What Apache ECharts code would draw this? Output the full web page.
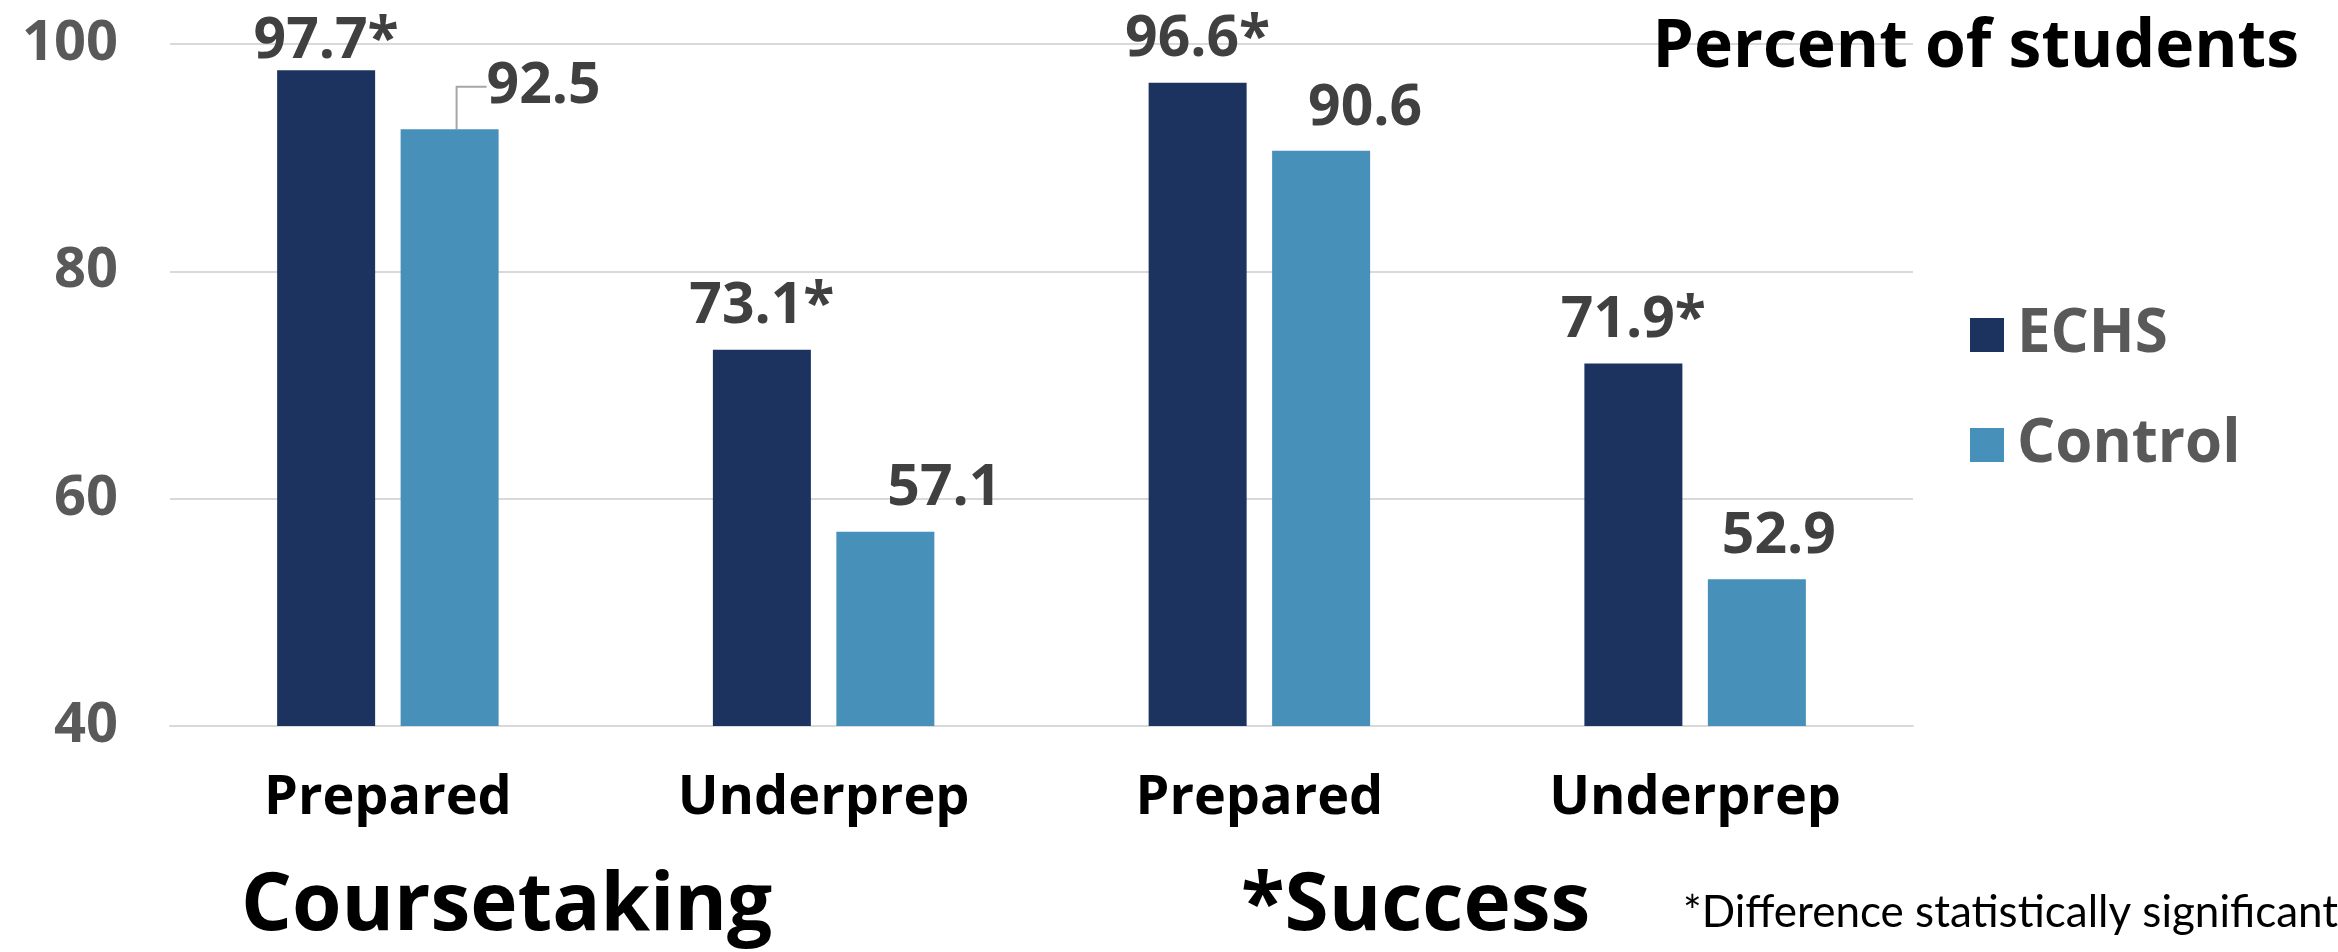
<!DOCTYPE html>
<html>
<head>
<meta charset="utf-8">
<script src="https://cdn.jsdelivr.net/npm/echarts@6/dist/echarts.min.js"></script>
<style>
  html, body { margin: 0; padding: 0; background: #ffffff; }
  #chart { width: 2338px; height: 952px; }
</style>
</head>
<body>
<div id="chart"></div>
<script>
// Categories along the x axis (two measures, each split by preparation level)
const categories = ['Prepared', 'Underprep', 'Prepared', 'Underprep'];
const groupTitles = ['Coursetaking', '*Success'];
const footnote = '*Difference statistically significant';
const unitTitle = 'Percent of students';

// Percent of students in each group
const echsValues = [97.7, 73.1, 96.6, 71.9];
const controlValues = [92.5, 57.1, 90.6, 52.9];
const echsSignificant = [true, true, true, true];

// Value axis range and ticks
const yMin = 40, yMax = 100, yStep = 20;

const BOLD_FONT = '"Open Sans", Lato, sans-serif';
const TEXT_FONT = 'Lato, "Open Sans", sans-serif';
const NAVY = '#1c3360';
const STEEL = '#4690ba';

// horizontal nudges (px) for the Control value labels so they clear the neighbouring bars;
// the first one sits off to the side and is tied back to its bar with a guide line
const controlLabelShift = [94, 59, 44, 22];
const controlLabelLift = [0, 0, 0, 0];

const chart = echarts.init(document.getElementById('chart'), null, { renderer: 'canvas' });

const labelBase = {
  show: true,
  position: 'top',
  distance: 14,
  fontFamily: BOLD_FONT,
  fontWeight: 'bold',
  fontSize: 57,
  color: '#404040'
};

const echsData = echsValues.map((v, i) => ({
  value: v,
  label: i === 0 ? { offset: [0, 14] } : undefined
}));

const controlData = controlValues.map((v, i) => ({
  value: v,
  labelLine: { show: i === 0 }
}));

chart.setOption({
  animation: false,
  backgroundColor: '#ffffff',
  textStyle: { fontFamily: BOLD_FONT },
  title: [
    {
      text: unitTitle,
      right: 34, top: 10,
      textStyle: { fontFamily: BOLD_FONT, fontWeight: 'bold', fontSize: 66, color: '#000000' }
    },
    {
      text: groupTitles[0],
      left: 236, top: 862,
      textStyle: { fontFamily: BOLD_FONT, fontWeight: 'bold', fontSize: 80, color: '#000000' }
    },
    {
      text: groupTitles[1],
      left: 1236, top: 862,
      textStyle: { fontFamily: BOLD_FONT, fontWeight: 'bold', fontSize: 80, color: '#000000' }
    },
    {
      text: footnote,
      left: 1678, top: 886,
      textStyle: { fontFamily: TEXT_FONT, fontWeight: 'normal', fontSize: 44, color: '#000000' }
    }
  ],
  legend: {
    orient: 'vertical',
    left: 1965, top: 300,
    itemWidth: 34, itemHeight: 34,
    itemGap: 50,
    icon: 'rect',
    textStyle: { fontFamily: BOLD_FONT, fontWeight: 'bold', fontSize: 60, color: '#595959', padding: [0, 0, 0, 8] },
    data: ['ECHS', 'Control']
  },
  grid: { left: 170, right: 425, top: 44, bottom: 226, containLabel: false },
  xAxis: {
    type: 'category',
    data: categories,
    axisLine: { show: true, lineStyle: { color: '#d9d9d9', width: 2 } },
    axisTick: { show: false },
    axisLabel: { margin: 46, fontFamily: BOLD_FONT, fontWeight: 'bold', fontSize: 54, color: '#000000' }
  },
  yAxis: {
    type: 'value',
    min: yMin, max: yMax, interval: yStep,
    axisLine: { show: false },
    axisTick: { show: false },
    splitLine: { lineStyle: { color: '#d9d9d9', width: 2 } },
    axisLabel: { margin: 52, fontFamily: BOLD_FONT, fontWeight: 'bold', fontSize: 56, color: '#595959' }
  },
  series: [
    {
      name: 'ECHS',
      type: 'bar',
      data: echsData,
      barWidth: 98,
      barGap: '26%',
      itemStyle: { color: NAVY },
      label: Object.assign({}, labelBase, {
        formatter: p => p.value.toFixed(1) + (echsSignificant[p.dataIndex] ? '*' : '')
      })
    },
    {
      name: 'Control',
      type: 'bar',
      data: controlData,
      barWidth: 98,
      itemStyle: { color: STEEL },
      label: Object.assign({}, labelBase, {
        formatter: p => p.value.toFixed(1)
      }),
      labelLine: { show: false, length2: 30, lineStyle: { color: '#a6a6a6', width: 2 } },
      labelLayout: p => ({ dx: controlLabelShift[p.dataIndex], dy: controlLabelLift[p.dataIndex] })
    }
  ]
});
</script>
</body>
</html>
